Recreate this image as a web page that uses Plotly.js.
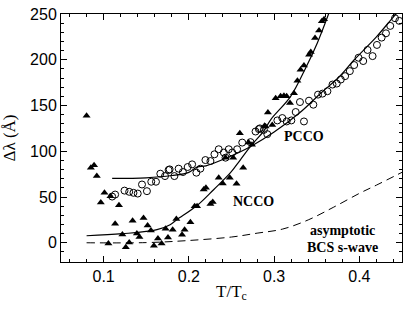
<!DOCTYPE html>
<html>
<head>
<meta charset="utf-8">
<script src="https://cdn.plot.ly/plotly-3.0.1.min.js"></script>
<style>html,body{margin:0;padding:0;background:#fff;}#chart{width:409px;height:309px;}</style>
</head>
<body>
<div id="chart"></div>
<script>
// NCCO data (filled triangles)
var nccoT = [0.080,0.085,0.0888,0.092,0.0967,0.101,0.1056,0.108,0.1135,0.118,0.122,0.126,0.130,0.134,0.139,0.142,0.1468,0.1516,0.1555,0.159,0.1637,0.168,0.1727,0.1755,0.181,0.1853,0.192,0.195,0.2018,0.2068,0.2096,0.2174,0.220,0.2253,0.228,0.235,0.2398,0.243,0.248,0.252,0.2559,0.2598,0.2637,0.270,0.274,0.2888,0.290,0.2927,0.2978,0.3018,0.3076,0.3115,0.3147,0.3186,0.3233,0.3273,0.331,0.335,0.341,0.343,0.348,0.3527,0.356,0.3586];
var nccoL = [138.8,82,84.6,72.9,44,54.6,-0.8,50.9,20.9,41,9.1,-5,0.3,24,10.2,6.2,27,19,13.5,-3.3,4.8,-0.8,15.4,5.8,14.3,26,8.8,14.3,22.3,40,40,58.2,60,42.5,44.7,71,64.8,93,71,93,64.5,119.8,82,109.5,107,127.8,127,142.5,128.6,158,160,160.8,160,152.7,163.4,177,189,193.7,205.5,208.5,223.8,231.9,242,244.3];
// PCCO data (open circles)
var pccoT = [0.11,0.1135,0.1245,0.13,0.135,0.140,0.145,0.1508,0.1559,0.1614,0.1665,0.172,0.1762,0.1774,0.183,0.188,0.193,0.1986,0.2038,0.2088,0.2135,0.2194,0.2253,0.23,0.235,0.241,0.243,0.2468,0.2508,0.2566,0.2626,0.2723,0.2782,0.2821,0.2833,0.288,0.292,0.3038,0.3096,0.3147,0.3202,0.3253,0.3303,0.335,0.3409,0.346,0.3515,0.3567,0.3625,0.3685,0.3735,0.3782,0.3833,0.3888,0.3939,0.399,0.4045,0.4096,0.4155,0.4206,0.4261,0.4312,0.4362,0.4418,0.4468];
var pccoL = [50.5,52.7,57,55.7,54.6,53.8,63.7,56.4,66.7,66.7,75.5,72.9,79.5,80.2,72.9,81,77.3,82.8,85.7,76.6,81,90.4,89.3,96.7,102.2,98.6,93,102.2,98.6,102.2,109.5,110,121.6,124.2,125,123.4,118.7,133.7,136.3,132.6,133.7,142.9,153.8,132.6,155.3,150.9,161.9,163,165.6,172.9,174,178.4,182.1,187.6,194.2,202.2,198.6,210.7,204,216.2,224.2,228.9,237,245.4,242.5];
// fit curves
var nccoFitT = [0.080,0.122,0.1626,0.178,0.186,0.2096,0.229,0.2488,0.2606,0.2744,0.288,0.2959,0.3194,0.337,0.3508,0.3645];
var nccoFitL = [7.7,9.9,14.3,19.8,25.3,40.7,58,76.6,91,107.7,122.3,134.4,160,191,218.7,251.6];
var pccoFitT = [0.11,0.15,0.18,0.20,0.2096,0.22,0.245,0.272,0.30,0.33,0.355,0.377,0.394,0.42,0.441,0.45];
var pccoFitL = [70.3,71,73.5,77,82.7,84,93,105,121,142,163.7,182,200,225,248,257];
var bcsT = [0.08,0.15,0.20,0.25,0.28,0.31,0.34,0.37,0.40,0.42,0.45];
var bcsL = [0,0.2,2.5,6.3,10.5,15,25,39,54,63,77];

var traces = [
  {x:nccoFitT,y:nccoFitL,mode:'lines',line:{color:'#000',width:1.2,shape:'spline'},hoverinfo:'skip'},
  {x:pccoFitT,y:pccoFitL,mode:'lines',line:{color:'#000',width:1.2,shape:'spline'},hoverinfo:'skip'},
  {x:bcsT,y:bcsL,mode:'lines',line:{color:'#000',width:1,dash:'8px,5px',shape:'spline'},hoverinfo:'skip'},
  {x:pccoT,y:pccoL,mode:'markers',marker:{symbol:'circle-open',size:7,color:'#000',line:{width:1,color:'#000'}}},
  {x:nccoT,y:nccoL,mode:'markers',marker:{symbol:'triangle-up',size:7,color:'#000'}}
];

var serif = 'Liberation Serif, Times New Roman, serif';
var sans = 'Liberation Sans, Arial, sans-serif';
var layout = {
  width:409,height:309,
  margin:{l:61,r:7,t:14,b:47},
  paper_bgcolor:'#fff',plot_bgcolor:'#fff',
  showlegend:false,
  xaxis:{range:[0.05,0.45],tickvals:[0.1,0.2,0.3,0.4],ticktext:['0.1','0.2','0.3','0.4'],
    ticks:'inside',ticklen:6,tickcolor:'#000',tickwidth:1,showline:true,linecolor:'#000',linewidth:1,mirror:'ticks',
    showgrid:false,zeroline:false,tickfont:{family:sans,size:16,color:'#000'},
    minor:{dtick:0.02,tick0:0,ticks:'inside',ticklen:3,tickcolor:'#000',showgrid:false},
    title:{text:'T/T<sub>c</sub>',font:{family:serif,size:17,color:'#000'},standoff:0}},
  yaxis:{range:[-21,250],tickvals:[0,50,100,150,200,250],
    ticks:'inside',ticklen:6,tickcolor:'#000',tickwidth:1,showline:true,linecolor:'#000',linewidth:1,mirror:'ticks',
    showgrid:false,zeroline:false,tickfont:{family:sans,size:16,color:'#000'},
    minor:{dtick:10,tick0:0,ticks:'inside',ticklen:3,tickcolor:'#000',showgrid:false},
    title:{text:'Δλ (Å)',font:{family:serif,size:17,color:'#000'},standoff:12}},
  annotations:[
    {x:0.335,y:116,text:'<b>PCCO</b>',showarrow:false,font:{family:serif,size:14,color:'#000'}},
    {x:0.2755,y:45.4,text:'<b>NCCO</b>',showarrow:false,font:{family:serif,size:14,color:'#000'}},
    {x:0.380,y:13.5,text:'<b>asymptotic</b>',showarrow:false,font:{family:serif,size:14,color:'#000'}},
    {x:0.380,y:-4.7,text:'<b>BCS s-wave</b>',showarrow:false,font:{family:serif,size:14,color:'#000'}}
  ]
};
Plotly.newPlot('chart',traces,layout,{staticPlot:true,displayModeBar:false});
</script>
</body>
</html>
